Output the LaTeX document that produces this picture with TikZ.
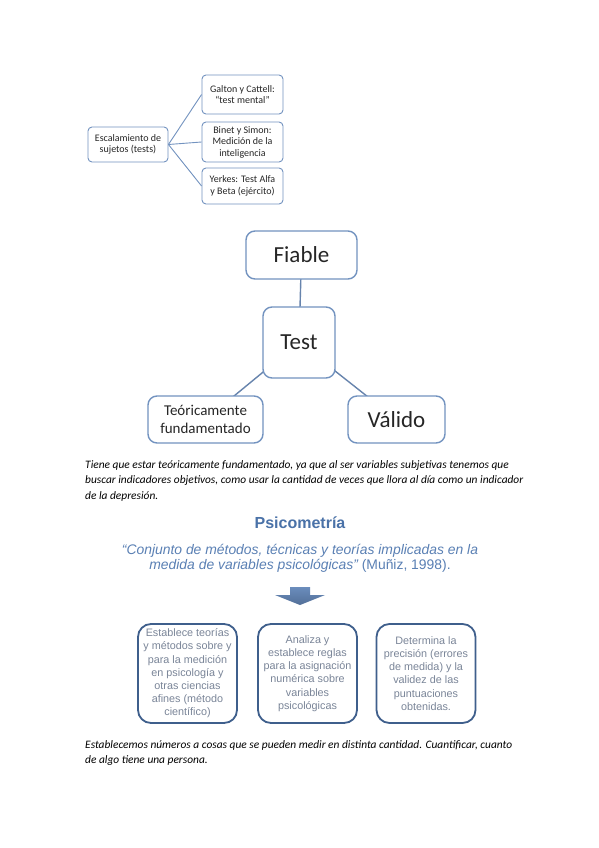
\documentclass[tikz,border=0pt]{standalone}
\usepackage{fontspec}
\setmainfont{Carlito}
\newfontfamily\arialfont{Liberation Sans}
\definecolor{lineblue}{HTML}{7393C0}
\definecolor{darkblue}{HTML}{3F5F8C}
\definecolor{titleblue}{HTML}{4A72A8}
\definecolor{quoteblue}{HTML}{5A80B4}
\definecolor{boxtext}{HTML}{7A8598}
\tikzset{
  smallbox/.style={draw=lineblue, line width=0.9pt, rounded corners=4pt, fill=white, align=center, inner sep=0pt, font=\fontsize{10}{11.5}\selectfont, text=black!85},
  bigbox/.style={draw=lineblue, line width=1.4pt, rounded corners=9pt, fill=white, align=center, inner sep=0pt, text=black!85},
  psibox/.style={draw=darkblue, line width=1.8pt, rounded corners=13pt, fill=white, align=center, inner sep=0pt, minimum width=99pt, minimum height=99pt, font=\arialfont\fontsize{10.8}{13.2}\selectfont, text=boxtext},
  joint/.style={draw=lineblue, line width=0.9pt},
  bigjoint/.style={draw=lineblue!90!black, line width=1.4pt}
}
\begin{document}
\begin{tikzpicture}[x=1pt,y=-1pt]
\useasboundingbox[fill=white] (0,0) rectangle (599,848);
% escalamiento de sujetos
\node[smallbox, minimum width=80pt, minimum height=35pt] (escal) at (128,144.5) {Escalamiento de\\sujetos (tests)};
\node[smallbox, minimum width=81pt, minimum height=39pt] (galton) at (242.5,94.5) {Galton y Cattell:\\“test mental”};
\node[smallbox, minimum width=81pt, minimum height=40pt] (binet) at (242.5,142) {Binet y Simon:\\Medición de la\\inteligencia};
\node[smallbox, minimum width=81pt, minimum height=36pt] (yerkes) at (242.5,186) {Yerkes: Test Alfa\\y Beta (ejército)};
\draw[joint] (escal.east) -- (galton.west);
\draw[joint] (escal.east) -- (binet.west);
\draw[joint] (escal.east) -- (yerkes.west);
% test
\draw[bigjoint] (301.5,255) -- (299,342.5);
\draw[bigjoint] (299,342.5) -- (205.5,419.5);
\draw[bigjoint] (299,342.5) -- (396.5,419.5);
\node[bigbox, minimum width=111pt, minimum height=48pt, font=\fontsize{23}{27}\selectfont] (fiable) at (301.5,255) {Fiable};
\node[bigbox, minimum width=72pt, minimum height=71pt, font=\fontsize{23}{27}\selectfont] (test) at (299,342.5) {Test};
\node[bigbox, minimum width=115pt, minimum height=47pt, font=\fontsize{15}{17.5}\selectfont] (teorica) at (205.5,419.5) {Teóricamente\\fundamentado};
\node[bigbox, minimum width=97pt, minimum height=47pt, font=\fontsize{23}{27}\selectfont] (valido) at (396.5,419.5) {Válido};
\node[anchor=north west, align=left, inner sep=0pt, font=\fontsize{11.4}{15.5}\selectfont\itshape] (parrafo1) at (85,460) {Tiene que estar teóricamente fundamentado, ya que al ser variables subjetivas tenemos que\\buscar indicadores objetivos, como usar la cantidad de veces que llora al día como un indicador\\de la depresión.};
% psicometria
\node[font=\arialfont\bfseries\fontsize{16}{19}\selectfont, text=titleblue] (titulo) at (300,523) {Psicometría};
\node[align=center, font=\arialfont\fontsize{13.9}{15.5}\selectfont, text=quoteblue] (cita) at (300,558.5) {\itshape “Conjunto de métodos, técnicas y teorías implicadas en la\\\itshape medida de variables psicológicas” \upshape(Muñiz, 1998).};
\shade[top color=quoteblue!90, bottom color=darkblue!90] (290,587) -- (310,587) -- (310,595) -- (325,595) -- (300,605) -- (275,595) -- (290,595) -- cycle;
\node[psibox] (metodos) at (187.5,673.5) {Establece teorías\\y métodos sobre y\\para la medición\\en psicología y\\otras ciencias\\afines (método\\científico)};
\node[psibox] (reglas) at (307.5,673.5) {Analiza y\\establece reglas\\para la asignación\\numérica sobre\\variables\\psicológicas};
\node[psibox] (precision) at (426,673.5) {Determina la\\precisión (errores\\de medida) y la\\validez de las\\puntuaciones\\obtenidas.};
\node[anchor=north west, align=left, inner sep=0pt, font=\fontsize{11.4}{15.5}\selectfont\itshape] (parrafo2) at (85,740) {Establecemos números a cosas que se pueden medir en distinta cantidad. Cuantificar, cuanto\\de algo tiene una persona.};
\end{tikzpicture}
\end{document}
